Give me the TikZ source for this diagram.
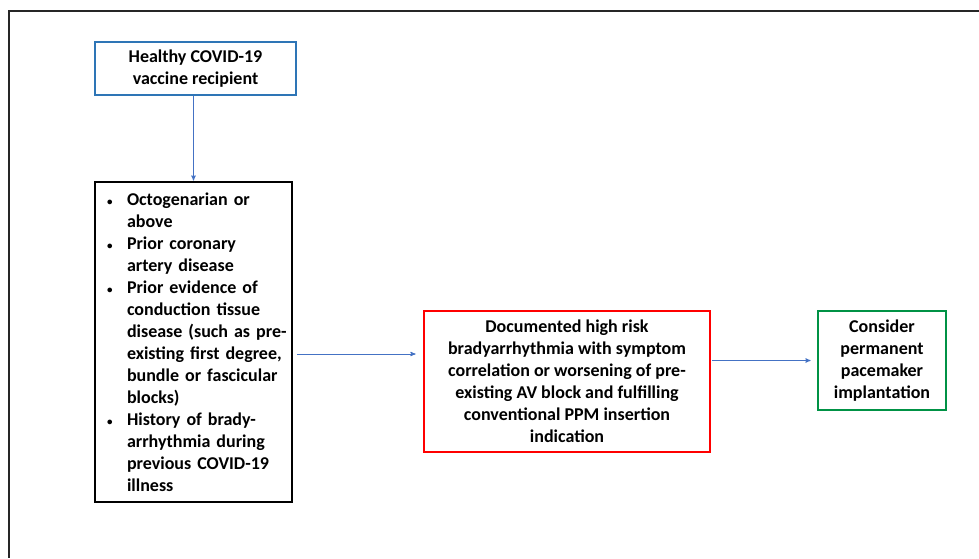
\documentclass[tikz,border=0pt]{standalone}
\usepackage{fontspec}
\setmainfont{Carlito}
\usetikzlibrary{arrows}
\definecolor{boxblue}{RGB}{46,117,182}
\definecolor{linkblue}{RGB}{68,114,196}
\definecolor{boxgreen}{RGB}{0,146,69}
% bullet line and hanging line for the risk list
\newcommand{\riskitem}[1]{\makebox[20pt][l]{\fontsize{11}{11}\selectfont\textbullet}\mbox{#1}}
\newcommand{\riskcont}[1]{\hspace*{20pt}\mbox{#1}}
\tikzset{
	flowbox/.style = {draw, line width=2.8pt, align=center, inner sep=0pt,
		font=\bfseries\fontsize{18}{22}\selectfont},
	box_blue/.style = {flowbox, draw=boxblue, minimum width=201pt, minimum height=53pt},% start
	box_black/.style = {flowbox, draw=black, align=left, text width=173pt,
		inner xsep=12pt, minimum height=320pt},% risk factors
	box_red/.style = {flowbox, draw=red, minimum width=286pt, minimum height=141pt},
	box_green/.style = {flowbox, draw=boxgreen, minimum width=128pt, minimum height=99pt},
	link/.style = {->, >=stealth', draw=linkblue, line width=0.9pt}
}
\begin{document}
\begin{tikzpicture}[x=1pt,y=-1pt]
	\useasboundingbox (0,0) rectangle (979,558);
	\draw[line width=2.5pt, black!85] (979,11) -- (9,11) -- (9,558);
	\node[box_blue] (vacc) at (195.5,68.5) {Healthy COVID-19\\vaccine recipient};
	\node[box_black] (risk) at (193.5,342) {%
		\riskitem{Octogenarian or}\\\riskcont{above}\\
		\riskitem{Prior coronary}\\\riskcont{artery disease}\\
		\riskitem{Prior evidence of}\\\riskcont{conduction tissue}\\\riskcont{disease (such as pre-}\\
		\riskcont{existing first degree,}\\\riskcont{bundle or fascicular}\\\riskcont{blocks)}\\
		\riskitem{History of brady-}\\\riskcont{arrhythmia during}\\\riskcont{previous COVID-19}\\\riskcont{illness}};
	\node[box_red] (brady) at (567,381.5) {Documented high risk\\bradyarrhythmia with symptom\\correlation or worsening of pre-\\existing AV block and fulfilling\\conventional PPM insertion\\indication};
	\node[box_green] (ppm) at (882,360.5) {Consider\\permanent\\pacemaker\\implantation};
	% connectors
	\draw[link] (risk.north |- vacc.south) -- (risk.north);
	\draw[link, shorten <=4pt, shorten >=7pt] ([yshift=-12pt]risk.east) -- ([yshift=-12pt]risk.east -| brady.west);
	\draw[link, shorten <=1pt, shorten >=6pt] (brady.east |- ppm.west) -- (ppm.west);
\end{tikzpicture}
\end{document}
